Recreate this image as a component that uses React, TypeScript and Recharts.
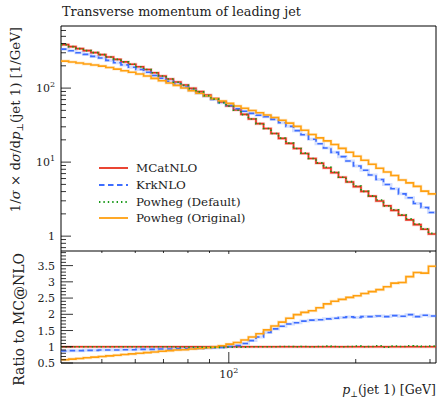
import React from 'react';
import { LineChart, Line, XAxis, YAxis, ReferenceArea } from 'recharts';

// leading-jet pT bin edges [GeV]
const binEdges = [
  40, 41.7, 43.4, 45.2, 47.1, 49.1, 51.1, 53.3, 55.5, 57.8,
  60.2, 62.8, 65.4, 68.1, 71.0, 73.9, 77.0, 80.2, 83.6, 87.1,
  90.7, 94.5, 98.5, 102.6, 106.9, 111.3, 116.0, 120.9, 125.9, 131.2,
  136.6, 142.4, 148.3, 154.5, 161.0, 167.7, 174.7, 182.0, 189.6, 197.5,
  205.8, 214.4, 223.4, 232.7, 242.4, 252.6, 263.1, 274.1, 285.6, 297.5, 310,
];

// MCatNLO, 1/sigma dsigma/dpT as plotted
const mcatnlo = [
  386, 363, 341, 321, 301, 283, 263, 244, 226, 210,
  194, 178, 161, 146, 133, 121, 110, 99.3, 89.7, 80.7,
  72.4, 64.9, 57.5, 50.6, 44.2, 38.3, 33.1, 28.5, 24.4, 20.9,
  17.9, 15.3, 13.1, 11.2, 9.66, 8.34, 7.21, 6.24, 5.40, 4.66,
  4.02, 3.47, 2.99, 2.58, 2.23, 1.92, 1.66, 1.43, 1.24, 1.07,
];

// ratios to MC@NLO
const krkRatio = [
  0.87, 0.88, 0.88, 0.89, 0.89, 0.90, 0.90, 0.90, 0.91, 0.91,
  0.92, 0.92, 0.92, 0.93, 0.93, 0.94, 0.94, 0.95, 0.95, 0.96,
  0.97, 0.98, 1.01, 1.04, 1.10, 1.19, 1.30, 1.44, 1.55, 1.63,
  1.70, 1.74, 1.79, 1.82, 1.83, 1.86, 1.88, 1.90, 1.92, 1.90,
  1.93, 1.93, 1.95, 1.93, 1.96, 1.94, 1.99, 1.93, 1.97, 1.95,
];

const powhegDefRatio = [
  1.00, 1.00, 1.00, 1.00, 1.00, 1.00, 1.00, 1.00, 1.00, 1.00,
  1.00, 1.00, 1.00, 1.00, 1.00, 0.99, 0.99, 0.99, 0.99, 0.98,
  0.98, 0.98, 0.99, 0.99, 0.99, 1.00, 1.00, 1.00, 1.00, 1.01,
  1.01, 1.00, 1.01, 1.00, 1.01, 1.02, 1.01, 1.00, 1.01, 1.02,
  1.00, 1.01, 1.03, 0.99, 1.02, 1.01, 1.03, 1.02, 1.01, 1.02,
];

const powhegOrigRatio = [
  0.60, 0.62, 0.64, 0.66, 0.68, 0.70, 0.72, 0.74, 0.76, 0.78,
  0.80, 0.82, 0.84, 0.86, 0.88, 0.90, 0.91, 0.93, 0.95, 0.97,
  0.99, 1.03, 1.08, 1.13, 1.21, 1.30, 1.40, 1.52, 1.64, 1.76,
  1.88, 1.99, 2.06, 2.11, 2.20, 2.32, 2.40, 2.46, 2.52, 2.57,
  2.64, 2.70, 2.76, 2.85, 2.96, 2.98, 3.16, 3.29, 3.27, 3.48,
];

const xTicks = [50, 60, 70, 80, 90, 100, 200, 300];
const mainYTicks = [
  0.7, 0.8, 0.9, 1, 2, 3, 4, 5, 6, 7, 8, 9,
  10, 20, 30, 40, 50, 60, 70, 80, 90, 100, 200, 300, 400, 500, 600,
];
const ratioYTicks = [
  0.5, 0.6, 0.7, 0.8, 0.9, 1.0, 1.1, 1.2, 1.3, 1.4, 1.5, 1.6, 1.7, 1.8,
  1.9, 2.0, 2.1, 2.2, 2.3, 2.4, 2.5, 2.6, 2.7, 2.8, 2.9, 3.0, 3.1, 3.2,
  3.3, 3.4, 3.5, 3.6, 3.7, 3.8, 3.9,
];

const series = [
  { key: 'mc', name: 'MCatNLO', color: '#e8301c', dash: undefined, halo: true },
  { key: 'krk', name: 'KrkNLO', color: '#3d6dff', dash: '5.5 3.5', halo: true },
  { key: 'pwo', name: 'Powheg (Original)', color: '#ffa010', dash: undefined, halo: true },
  { key: 'pwd', name: 'Powheg (Default)', color: '#1a9a1a', dash: '1.4 3', halo: false },
];
const legendOrder = ['mc', 'krk', 'pwd', 'pwo'];

const FONT = "'DejaVu Serif', serif";
const X_DOMAIN = [40, 310];
const MAIN_Y_DOMAIN = [0.63, 690];
const RATIO_Y_DOMAIN = [0.5, 3.95];
const RATIO_PLOT_H = 112;

const last = mcatnlo.length - 1;
const mainRows = binEdges.map((x, i) => {
  const k = Math.min(i, last);
  const mc = mcatnlo[k];
  return { x, mc, krk: mc * krkRatio[k], pwd: mc * powhegDefRatio[k], pwo: mc * powhegOrigRatio[k] };
});
const ratioRows = binEdges.map((x, i) => {
  const k = Math.min(i, last);
  return { x, mc: mcatnlo[k] / mcatnlo[k], krk: krkRatio[k], pwd: powhegDefRatio[k], pwo: powhegOrigRatio[k] };
});

const Pow = ({ exp }: { exp: string }) => (
  <>
    <tspan>10</tspan>
    <tspan dy={-5} fontSize={8}>{exp}</tspan>
  </>
);

const MainYTick = (props: any) => {
  const { x, y, payload } = props;
  const v = payload.value;
  const major = v === 1 || v === 10 || v === 100;
  return (
    <g>
      <line x1={x} x2={x + (major ? 10 : 5)} y1={y} y2={y} stroke="#000" strokeWidth={0.8} />
      {major && (
        <text x={x - 6} y={y + 4} textAnchor="end" fontSize={11} fontFamily={FONT} fill="#222">
          {v === 1 ? '1' : <Pow exp={v === 10 ? '1' : '2'} />}
        </text>
      )}
    </g>
  );
};

const RatioYTick = (props: any) => {
  const { x, y, payload } = props;
  const v = payload.value;
  const major = Math.abs(v * 2 - Math.round(v * 2)) < 1e-6;
  return (
    <g>
      <line x1={x} x2={x + (major ? 12 : 5)} y1={y} y2={y} stroke="#000" strokeWidth={0.8} />
      {major && (
        <text x={x - 6} y={y + 4} textAnchor="end" fontSize={11} fontFamily={FONT} fill="#222">
          {String(Math.round(v * 10) / 10)}
        </text>
      )}
    </g>
  );
};

const MainXTick = (props: any) => {
  const { x, y, payload } = props;
  const major = payload.value === 100;
  return <line x1={x} x2={x} y1={y} y2={y - (major ? 11 : 4)} stroke="#000" strokeWidth={0.8} />;
};

const RatioXTick = (props: any) => {
  const { x, y, payload } = props;
  const major = payload.value === 100;
  const top = y - RATIO_PLOT_H;
  return (
    <g>
      <line x1={x} x2={x} y1={y} y2={y - (major ? 11 : 4)} stroke="#000" strokeWidth={0.8} />
      <line x1={x} x2={x} y1={top} y2={top + (major ? 3 : 2)} stroke="#000" strokeWidth={0.8} />
      {major && (
        <text x={x} y={y + 15} textAnchor="middle" fontSize={11} fontFamily={FONT} fill="#222">
          <Pow exp="2" />
        </text>
      )}
    </g>
  );
};

const LegendBox = () => (
  <div style={{ position: 'absolute', left: 99, top: 160, fontFamily: FONT, fontSize: 11.9, color: '#222' }}>
    {legendOrder.map((k) => {
      const s = series.find((d) => d.key === k)!;
      return (
        <div key={k} style={{ display: 'flex', alignItems: 'center', height: 16.7 }}>
          <svg width={37} height={10}>
            <line x1={0} x2={29} y1={5} y2={5} stroke={s.color} strokeWidth={1.8} strokeDasharray={s.dash} />
          </svg>
          <span>{s.name}</span>
        </div>
      );
    })}
  </div>
);

const renderLines = () =>
  series.flatMap((s) => {
    const out = [];
    if (s.halo) {
      out.push(
        <Line
          key={s.key + '-halo'}
          dataKey={s.key}
          type="stepAfter"
          stroke={s.color}
          strokeOpacity={0.22}
          strokeWidth={3}
          dot={false}
          activeDot={false}
          legendType="none"
          isAnimationActive={false}
        />,
      );
    }
    out.push(
      <Line
        key={s.key}
        dataKey={s.key}
        name={s.name}
        type="stepAfter"
        stroke={s.color}
        strokeWidth={1.6}
        strokeDasharray={s.dash}
        dot={false}
        activeDot={false}
        isAnimationActive={false}
      />,
    );
    return out;
  });

export default function App() {
  return (
    <div style={{ position: 'absolute', left: 0, top: 0, width: 437, height: 399, background: '#fff' }}>
      <div style={{ position: 'absolute', left: 0, top: 0 }}>
        <LineChart width={437} height={251} data={mainRows} margin={{ top: 26, right: 1, bottom: 0, left: 0 }}>
          <XAxis
            dataKey="x"
            type="number"
            scale="log"
            domain={X_DOMAIN}
            allowDataOverflow
            ticks={xTicks}
            interval={0}
            height={0}
            tickSize={0}
            tickMargin={0}
            axisLine={false}
            tickLine={false}
            tick={MainXTick}
          />
          <YAxis
            type="number"
            scale="log"
            domain={MAIN_Y_DOMAIN}
            allowDataOverflow
            ticks={mainYTicks}
            interval={0}
            width={61}
            tickSize={0}
            tickMargin={0}
            axisLine={false}
            tickLine={false}
            tick={MainYTick}
          />
          {renderLines()}
          <ReferenceArea
            x1={X_DOMAIN[0]}
            x2={X_DOMAIN[1]}
            y1={MAIN_Y_DOMAIN[0]}
            y2={MAIN_Y_DOMAIN[1]}
            fill="none"
            stroke="#000"
            strokeWidth={1}
            ifOverflow="visible"
          />
        </LineChart>
      </div>
      <div style={{ position: 'absolute', left: 0, top: 251 }}>
        <LineChart width={437} height={148} data={ratioRows} margin={{ top: 0, right: 1, bottom: 0, left: 0 }}>
          <XAxis
            dataKey="x"
            type="number"
            scale="log"
            domain={X_DOMAIN}
            allowDataOverflow
            ticks={xTicks}
            interval={0}
            height={36}
            tickSize={0}
            tickMargin={0}
            axisLine={false}
            tickLine={false}
            tick={RatioXTick}
          />
          <YAxis
            type="number"
            domain={RATIO_Y_DOMAIN}
            allowDataOverflow
            ticks={ratioYTicks}
            interval={0}
            width={61}
            tickSize={0}
            tickMargin={0}
            axisLine={false}
            tickLine={false}
            tick={RatioYTick}
          />
          {renderLines()}
          <ReferenceArea
            x1={X_DOMAIN[0]}
            x2={X_DOMAIN[1]}
            y1={RATIO_Y_DOMAIN[0]}
            y2={RATIO_Y_DOMAIN[1]}
            fill="none"
            stroke="#000"
            strokeWidth={1}
            ifOverflow="visible"
          />
        </LineChart>
      </div>
      <LegendBox />
      <svg
        width={437}
        height={399}
        style={{ position: 'absolute', left: 0, top: 0, pointerEvents: 'none' }}
        fontFamily={FONT}
        fill="#222"
      >
        <text x={62} y={16} fontSize={12.8}>
          Transverse momentum of leading jet
        </text>
        <text transform="translate(20,27) rotate(-90)" textAnchor="end" fontSize={13.3}>
          1/<tspan fontStyle="italic">σ</tspan> × d<tspan fontStyle="italic">σ</tspan>/d
          <tspan fontStyle="italic">p</tspan>
          <tspan dy={3} fontSize={9}>⊥</tspan>
          <tspan dy={-3}>(jet 1) [1/GeV]</tspan>
        </text>
        <text transform="translate(24,253) rotate(-90)" textAnchor="end" fontSize={14}>
          Ratio to MC@NLO
        </text>
        <text x={436} y={394} textAnchor="end" fontSize={12.5}>
          <tspan fontStyle="italic">p</tspan>
          <tspan dy={3} fontSize={8}>⊥</tspan>
          <tspan dy={-3}>(jet 1) [GeV]</tspan>
        </text>
      </svg>
    </div>
  );
}
